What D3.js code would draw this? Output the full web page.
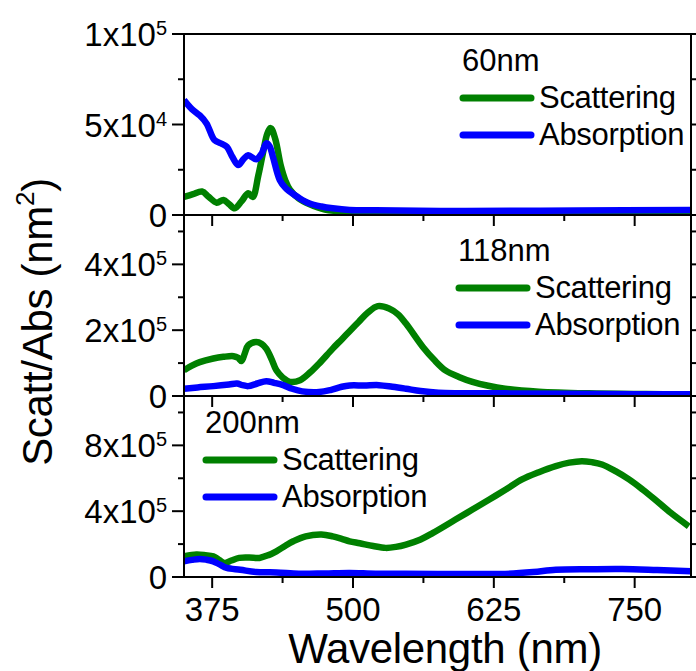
<!DOCTYPE html>
<html>
<head>
<meta charset="utf-8">
<script src="https://cdn.jsdelivr.net/npm/d3@7"></script>
<style>
body { margin: 0; background: #fff; }
text { font-family: "Liberation Sans", Arial, sans-serif; fill: #000; }
</style>
</head>
<body>
<script>
// spectra: [wavelength nm, cross section nm^2]
var scat60 = [[350,10000],[358,11500],[366,13000],[372,10000],[379,6800],[385,8300],[390,6000],[395,3700],[401,7500],[407,12000],[411,10000],[416,22000],[420,34000],[424,45000],[427,48000],[431,42000],[436,27000],[440,19000],[444,14000],[452,9000],[461,6000],[475,3000],[500,1800],[600,1500],[700,1600],[800,1800]];
var abs60 = [[350,63500],[357,58500],[364,55000],[370,50600],[377,41400],[383,39500],[388,37700],[393,32000],[398,27600],[403,31000],[407,33000],[414,30800],[419,34000],[423,39600],[426,38000],[429,32000],[435,19300],[440,15000],[444,12900],[452,9500],[461,6500],[472,4700],[482,3700],[497,2800],[520,2600],[600,2200],[700,2500],[800,2800]];

var scat118 = [[350,78000],[357,92000],[364,103000],[376,114000],[385,119000],[394,121000],[398,116000],[401,106000],[404,130000],[407,154000],[414,164000],[419,158000],[423,144000],[428,110000],[432,78000],[438,55000],[444,43000],[453,48000],[462,72000],[470,99000],[482,144000],[490,172000],[497,197000],[505,225000],[513,253000],[522,273000],[532,266000],[540,248000],[547,220000],[562,149000],[572,110000],[582,78000],[594,58000],[606,43000],[620,31000],[635,22000],[665,13000],[709,8000],[760,6000],[800,5000]];
var abs118 = [[350,22000],[362,26000],[376,30000],[390,35000],[397,38000],[402,33000],[407,30000],[415,38000],[423,45000],[430,40000],[438,33000],[446,22000],[455,14000],[470,12000],[480,18000],[490,28000],[497,32000],[510,32000],[523,33000],[535,28000],[547,22000],[560,15000],[576,10000],[635,8000],[720,6000],[800,5000]];

var scat200 = [[350,125000],[361,136000],[369,132000],[376,125000],[381,105000],[386,85000],[392,100000],[399,116000],[408,118000],[417,116000],[425,133000],[432,156000],[440,190000],[447,217000],[458,247000],[472,258000],[482,247000],[490,232000],[497,217000],[506,205000],[518,188000],[529,177000],[538,183000],[547,197000],[560,228000],[571,268000],[591,349000],[606,410000],[621,471000],[636,533000],[650,593000],[665,637000],[680,674000],[692,695000],[703,704000],[712,698000],[721,684000],[733,643000],[745,593000],[757,532000],[768,471000],[782,390000],[798,308000]];
var abs200 = [[350,95000],[357,104000],[364,110000],[370,105000],[376,95000],[382,75000],[388,55000],[400,44000],[414,30000],[432,28000],[452,20000],[475,22000],[497,25000],[520,20000],[547,20000],[600,18000],[635,19000],[660,30000],[680,44000],[710,47000],[739,48000],[770,42000],[800,35000]];

var xTicks = [375, 500, 625, 750];
var xMinor = [437.5, 562.5, 687.5];
var panelNames = ["60nm", "118nm", "200nm"];
var yMaxes = [100000, 550000, 1100000];
var yMajor = [[0, 50000, 100000], [0, 200000, 400000], [0, 400000, 800000]];
var yMinor = [[25000, 75000], [100000, 300000, 500000], [200000, 600000, 1000000]];
var legendLabels = ["Scattering", "Absorption"];
var colors = ["#008000", "#0000ff"];

var W = 696, H = 671;
var left = 184, right = 691, top0 = 34, panelH = 181;
// legend anchor per panel: x of line start, y of name baseline
var legendPos = [[460, 71], [456, 261], [203, 433]];

var svg = d3.select("body").append("svg")
    .attr("width", W)
    .attr("height", H);

var x = d3.scaleLinear().domain([350, 800]).range([left, right]);

function supLabel(sel, v, size) {
    sel.text(null);
    if (v === 0) { sel.text("0"); return; }
    var e = Math.floor(Math.log10(v) + 1e-9);
    var m = Math.round(v / Math.pow(10, e));
    sel.append("tspan").text(m + "x10");
    sel.append("tspan").attr("font-size", size).attr("dy", -11).text(e);
}

var data = [[scat60, abs60], [scat118, abs118], [scat200, abs200]];

data.forEach(function(series, p) {
    var y0 = top0 + p * panelH;
    var y = d3.scaleLinear().domain([0, yMaxes[p]]).range([y0 + panelH, y0]);
    var g = svg.append("g");

    var clipId = "clip" + p;
    svg.append("clipPath").attr("id", clipId)
        .append("rect").attr("x", left).attr("y", y0 - 4).attr("width", right - left).attr("height", panelH + 4);

    var line = d3.line()
        .x(function(d) { return x(d[0]); })
        .y(function(d) { return y(d[1]); })
        .curve(d3.curveCatmullRom);

    series.forEach(function(s, i) {
        g.append("path")
            .attr("clip-path", "url(#" + clipId + ")")
            .attr("d", line(s))
            .attr("fill", "none")
            .attr("stroke", colors[i])
            .attr("stroke-width", 6.5)
            .attr("stroke-linejoin", "round");
    });

    // frame
    if (p === 0) {
        g.append("line").attr("x1", left - 1).attr("x2", right + 1)
            .attr("y1", y0).attr("y2", y0).attr("stroke", "#000").attr("stroke-width", 2);
    }
    g.append("line").attr("x1", left).attr("x2", left)
        .attr("y1", y0).attr("y2", y0 + panelH).attr("stroke", "#000").attr("stroke-width", 2);
    g.append("line").attr("x1", right).attr("x2", right)
        .attr("y1", y0).attr("y2", y0 + panelH).attr("stroke", "#000").attr("stroke-width", 2);

    // bottom axis at zero
    var xAxis = g.append("g").attr("transform", "translate(0," + (y0 + panelH) + ")");
    xAxis.append("line").attr("x1", left - 12).attr("x2", right + 6)
        .attr("stroke", "#000").attr("stroke-width", 2);
    xAxis.selectAll(".maj").data(xTicks).enter().append("line")
        .attr("x1", function(d) { return x(d); }).attr("x2", function(d) { return x(d); })
        .attr("y1", 0).attr("y2", 11).attr("stroke", "#000").attr("stroke-width", 2);
    xAxis.selectAll(".min").data(xMinor).enter().append("line")
        .attr("x1", function(d) { return x(d); }).attr("x2", function(d) { return x(d); })
        .attr("y1", 0).attr("y2", 6).attr("stroke", "#000").attr("stroke-width", 2);
    if (p === 2) {
        xAxis.selectAll(".lab").data(xTicks).enter().append("text")
            .attr("x", function(d) { return x(d); })
            .attr("y", 44)
            .attr("text-anchor", "middle")
            .attr("font-size", 33)
            .text(function(d) { return d; });
    }

    // y ticks, left outward and right outward
    yMajor[p].forEach(function(v) {
        if (v !== 0) {
            g.append("line").attr("x1", left - 12).attr("x2", left)
                .attr("y1", y(v)).attr("y2", y(v)).attr("stroke", "#000").attr("stroke-width", 2);
            g.append("line").attr("x1", right).attr("x2", right + 12)
                .attr("y1", y(v)).attr("y2", y(v)).attr("stroke", "#000").attr("stroke-width", 2);
        }
        g.append("text")
            .attr("x", 167)
            .attr("y", y(v) + 12)
            .attr("text-anchor", "end")
            .attr("font-size", 33)
            .call(supLabel, v, 20);
    });
    yMinor[p].forEach(function(v) {
        g.append("line").attr("x1", left - 6).attr("x2", left)
            .attr("y1", y(v)).attr("y2", y(v)).attr("stroke", "#000").attr("stroke-width", 2);
        g.append("line").attr("x1", right).attr("x2", right + 6)
            .attr("y1", y(v)).attr("y2", y(v)).attr("stroke", "#000").attr("stroke-width", 2);
    });

    // legend
    var lx = legendPos[p][0], ly = legendPos[p][1];
    g.append("text").attr("x", lx + 2).attr("y", ly).attr("font-size", 31).text(panelNames[p]);
    legendLabels.forEach(function(lab, i) {
        var yy = ly + 27 + i * 37;
        g.append("line").attr("x1", lx + 3).attr("x2", lx + 71)
            .attr("y1", yy).attr("y2", yy)
            .attr("stroke", colors[i]).attr("stroke-width", 7).attr("stroke-linecap", "round");
        g.append("text").attr("x", lx + 79).attr("y", yy + 10)
            .attr("font-size", 31).attr("letter-spacing", -0.3).text(lab);
    });
});

// axis titles
svg.append("text")
    .attr("x", 445).attr("y", 663)
    .attr("text-anchor", "middle")
    .attr("font-size", 42)
    .attr("letter-spacing", -0.3)
    .text("Wavelength (nm)");

var yt = svg.append("text")
    .attr("transform", "translate(52,322) rotate(-90)")
    .attr("text-anchor", "middle")
    .attr("font-size", 42)
    .attr("letter-spacing", -0.3);
yt.append("tspan").text("Scatt/Abs (nm");
yt.append("tspan").attr("font-size", 26).attr("dy", -18).text("2");
yt.append("tspan").attr("dy", 18).text(")");
</script>
</body>
</html>
